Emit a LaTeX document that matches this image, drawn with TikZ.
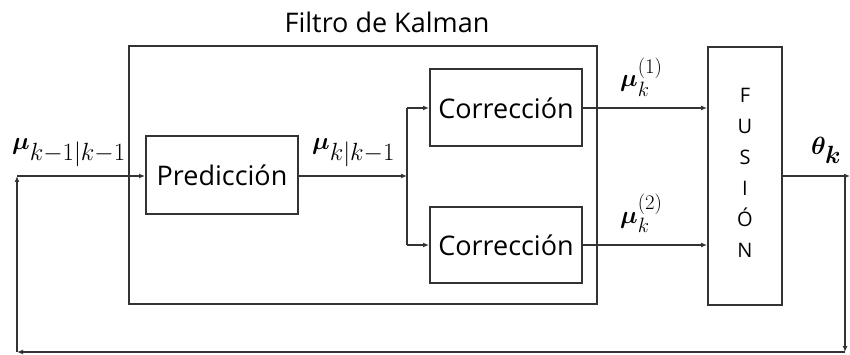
\documentclass[tikz,border=0pt]{standalone}
\usepackage{amsmath,bm}
\usepackage{fontspec}
\setmainfont{Open Sans}
\usetikzlibrary{arrows.meta}
\newcommand\sbx[1]{\hbox{\fontsize{21}{21}\selectfont$#1$}}
\newcommand\sbl[1]{\raisebox{-5pt}{\fontsize{23}{23}\selectfont$#1$}}
\tikzset{
  blk/.style={draw=black!80, line width=2pt, rectangle, inner sep=0pt, font=\fontsize{27}{30}\selectfont},
  conn/.style={draw=black!80, line width=2pt},
  arr/.style={conn, -{Latex[length=6pt,width=5pt]}},
  lbl/.style={font=\fontsize{26}{30}\selectfont, inner sep=0pt, anchor=base west}
}
\begin{document}
\begin{tikzpicture}[x=1pt,y=-1pt]
\useasboundingbox (0,0) rectangle (850,355);
\node[blk, minimum width=468pt, minimum height=258pt] (kal) at (363,175) {};
\node[font=\fontsize{27}{30}\selectfont, inner sep=0pt] (title) at (387,22) {Filtro de Kalman};
\node[blk, minimum width=152pt, minimum height=78pt] (pred) at (222,175) {Predicción};
\node[blk, minimum width=152pt, minimum height=77pt] (c1) at (506,108) {Corrección};
\node[blk, minimum width=152pt, minimum height=75pt] (c2) at (506,245) {Corrección};
\node[blk, minimum width=74pt, minimum height=258pt] (fus) at (745,176) {};
\node[inner sep=0pt, align=center, font=\fontsize{20}{31}\selectfont] (fust) at (745,173) {F\\U\\S\\I\\Ó\\N};
\coordinate (sp) at (407,176);
\coordinate (o) at (845,176);
\coordinate (oe) at (850,176);
\coordinate (b1) at (845,352);
\coordinate (b2) at (17,352);
\coordinate (b3) at (17,176);
\draw[arr] (pred.east |- sp) -- (sp);
\draw[conn] (sp) -- (sp |- c1.west);
\draw[conn] (sp) -- (sp |- c2.west);
\draw[arr] (sp |- c1.west) -- (c1.west);
\draw[arr] (sp |- c2.west) -- (c2.west);
\draw[arr] (c1.east) -- (fus.west |- c1.east);
\draw[arr] (c2.east) -- (fus.west |- c2.east);
\draw[arr] (fus.east |- o) -- (oe);
\draw[arr] (o) -- (b1);
\draw[arr] (b1) -- (b2);
\draw[arr] (b2) -- (b3);
\draw[arr] (b3) -- (pred.west |- b3);
\node[lbl] (m0) at (12,150) {$\bm{\mu}_{\sbl{k{-}1|k{-}1}}$};
\node[lbl] (m1) at (312,150) {$\bm{\mu}_{\sbl{k|k{-}1}}$};
\node[lbl] (m2) at (620,87) {$\bm{\mu}_{\sbx{k}}^{\sbx{(1)}}$};
\node[lbl] (m3) at (620,223) {$\bm{\mu}_{\sbx{k}}^{\sbx{(2)}}$};
\node[lbl, font=\fontsize{33}{38}\selectfont] (th) at (811,155) {$\bm{\theta}_{\bm{k}}$};
\end{tikzpicture}
\end{document}
